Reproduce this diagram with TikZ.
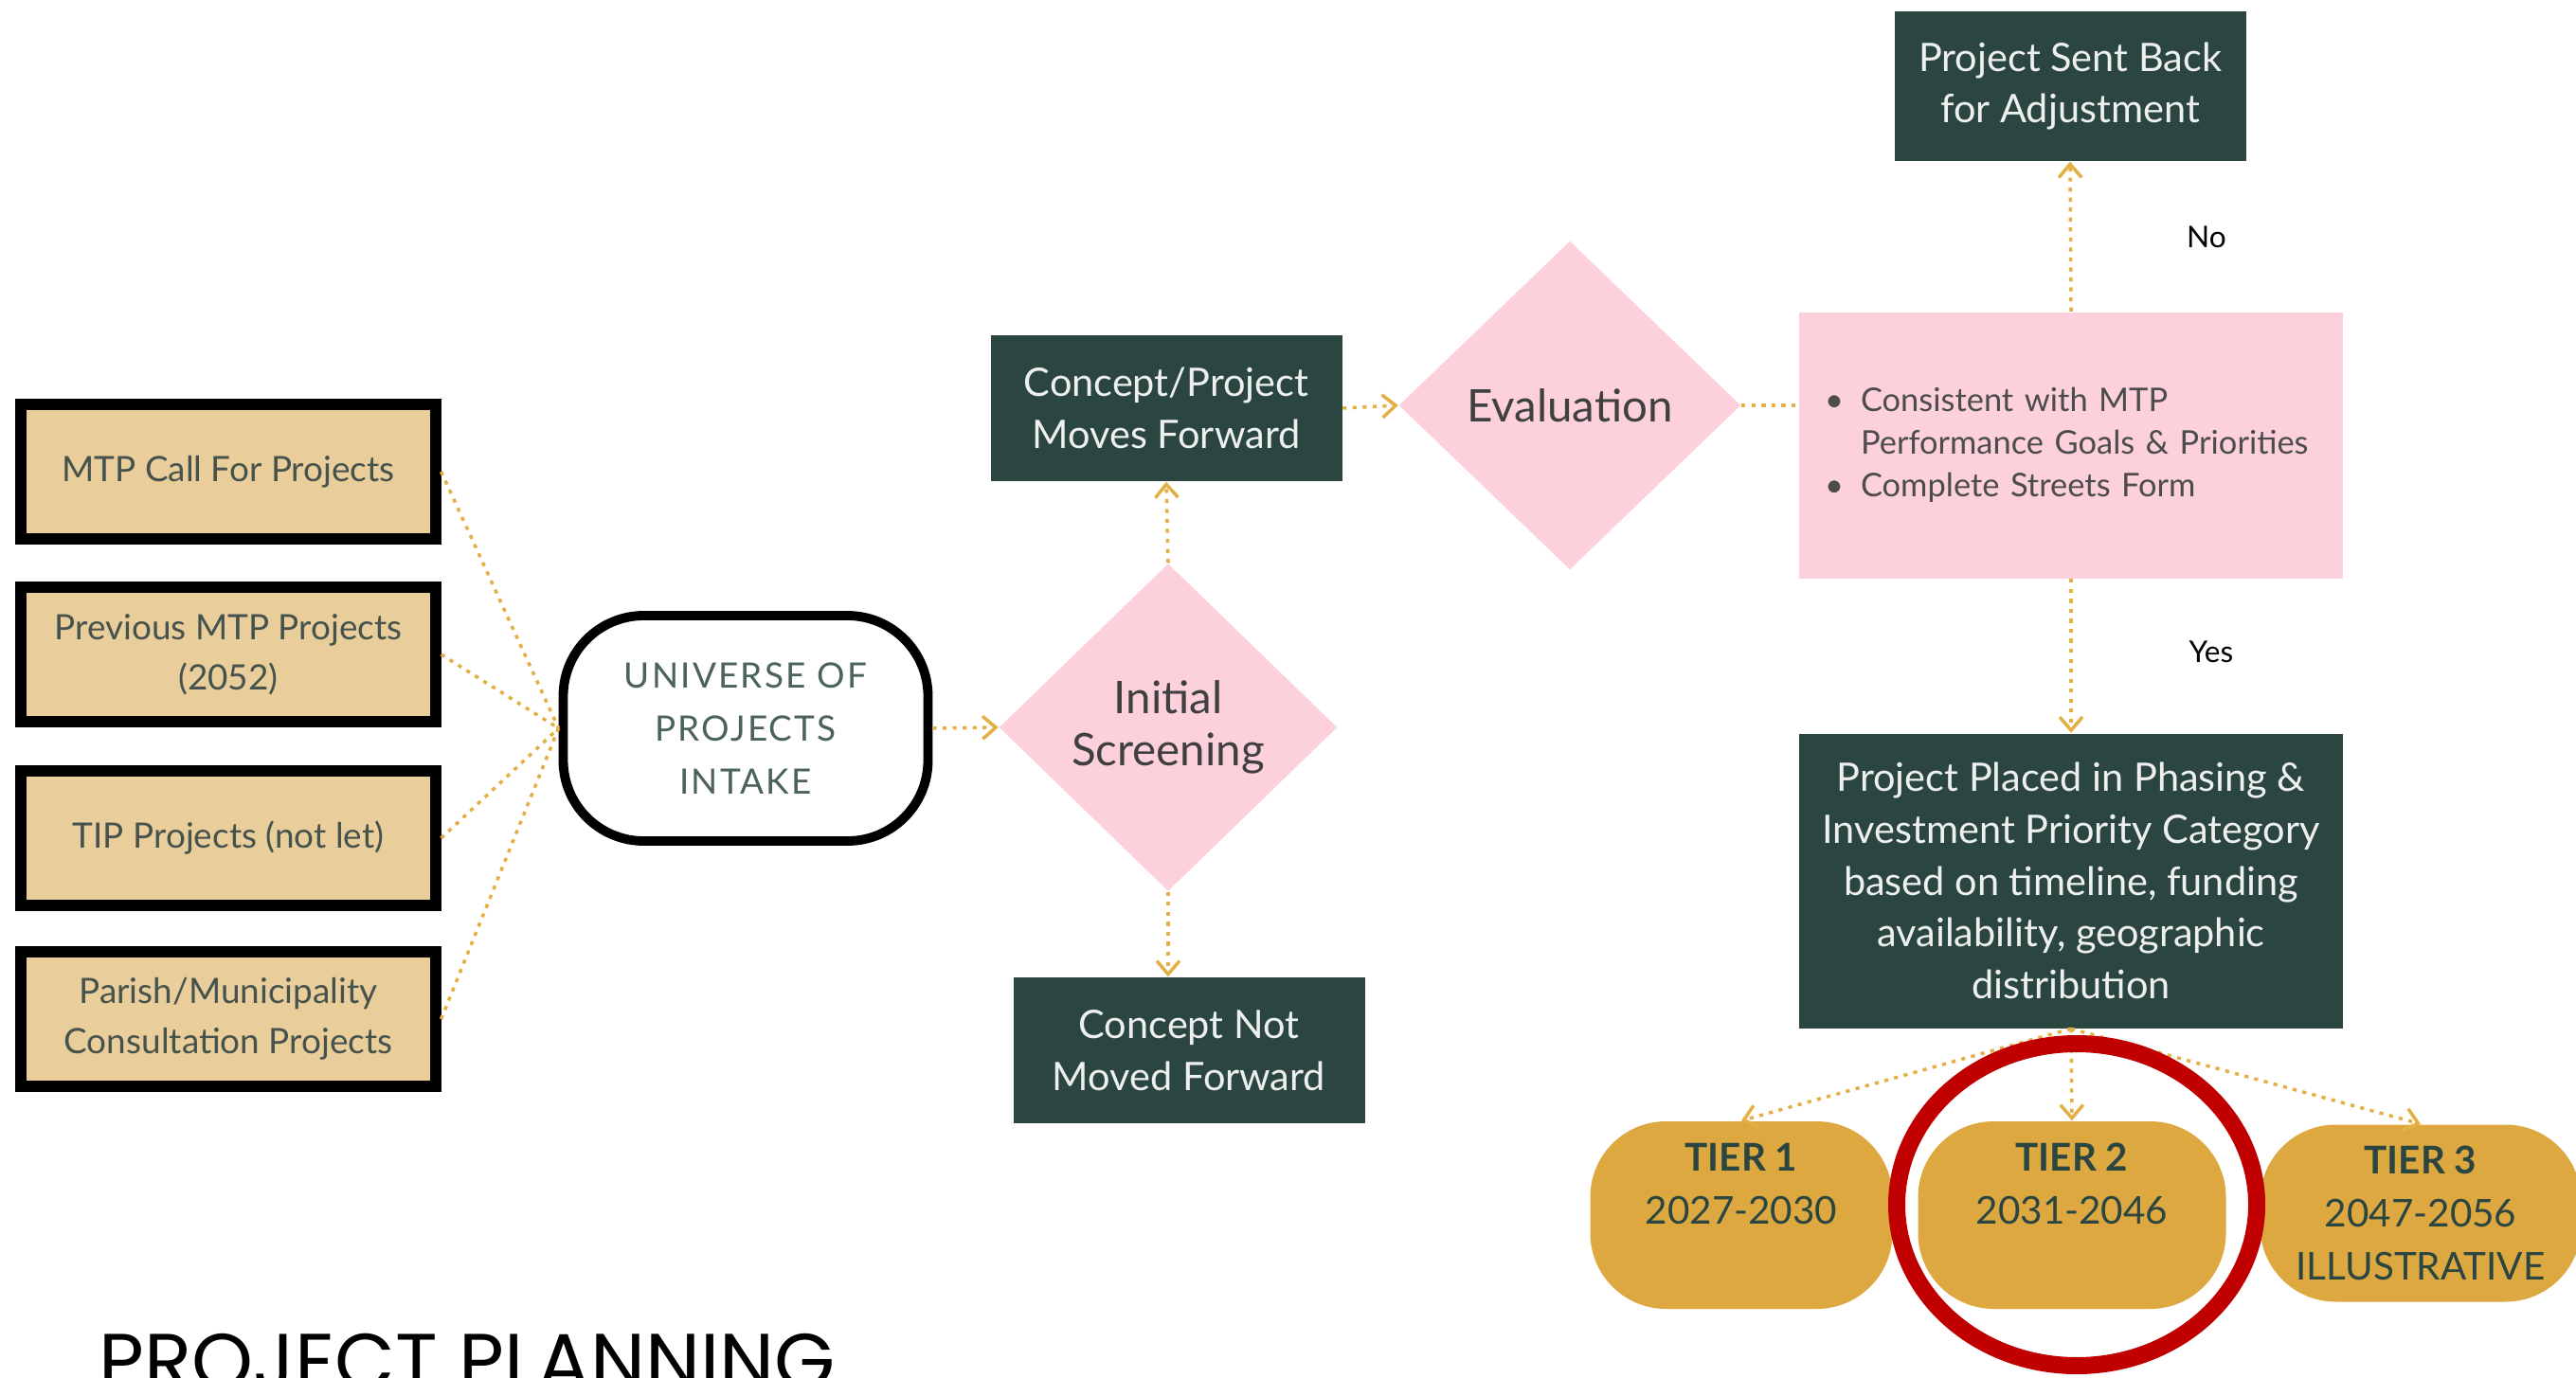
\documentclass[tikz,border=0pt]{standalone}
\usepackage{fontspec}
\setmainfont{Lato}
\newfontfamily\titlefont{Poppins}
\usetikzlibrary{shapes.geometric,arrows.meta}

\definecolor{pine}{RGB}{43,70,64}
\definecolor{sand}{RGB}{233,205,155}
\definecolor{blush}{RGB}{253,209,219}
\definecolor{amber}{RGB}{228,176,70}
\definecolor{gold}{RGB}{221,168,64}
\definecolor{alert}{RGB}{192,0,0}
\definecolor{ink}{RGB}{70,82,76}

\begin{document}
\begin{tikzpicture}[
    srcbox/.style={draw=black, fill=sand, line width=3.2pt, minimum width=4.38cm, minimum height=1.42cm,
        align=center, text=ink, font=\fontsize{10.5}{15}\selectfont},
    darkbox/.style={fill=pine, minimum width=3.71cm, minimum height=1.54cm, align=center,
        text=white!92!pine, font=\fontsize{11.8}{15.6}\selectfont},
    decision/.style={diamond, fill=blush, inner sep=0pt, align=center, text=black!75,
        font=\fontsize{13.5}{15.6}\selectfont},
    tier/.style={fill=gold, rounded corners=0.8cm, minimum height=1.98cm, align=center, text=pine,
        font=\fontsize{11.5}{16}\selectfont},
    flow/.style={draw=amber, line width=1pt, dash pattern=on 1.2pt off 1.8pt},
    flowarrow/.style={flow, -{Straight Barb[length=1.4mm,width=2.4mm]}},
    answer/.style={font=\fontsize{9}{11}\selectfont, text=black}
]
    % Canvas
    \useasboundingbox (0,0) rectangle (27.19,-14.55);
    \fill[white] (0,0) rectangle (27.19,-14.55);

    % Project sources
    \foreach \yy/\txt [count=\i] in {4.98/{MTP Call For Projects}, 6.91/{Previous MTP Projects\\(2052)},
        8.85/{TIP Projects (not let)}, 10.76/{Parish/Municipality\\Consultation Projects}} {
        \node[srcbox] (src\i) at (2.41,-\yy) {\txt};
    }

    % Intake and screening
    \node[draw=black, line width=2.8pt, rounded corners=0.85cm, minimum width=3.85cm, minimum height=2.38cm,
        align=center, text=pine!85, font=\addfontfeatures{LetterSpace=6}\fontsize{10.5}{15.9}\selectfont]
        (universe) at (7.87,-7.69) {UNIVERSE OF\\PROJECTS\\INTAKE};
    \node[decision, minimum width=3.57cm, minimum height=3.46cm] (screen) at (12.33,-7.68) {Initial\\Screening};
    \node[darkbox] (goAhead) at (12.31,-4.31) {Concept/Project\\Moves Forward};
    \node[darkbox] (notFwd) at (12.55,-11.09) {Concept Not\\Moved Forward};

    % Evaluation
    \node[decision, minimum width=3.61cm, minimum height=3.47cm] (eval) at (16.57,-4.28) {Evaluation};
    \node[fill=blush, minimum width=5.74cm, minimum height=2.81cm, text width=5.2cm, inner xsep=0.27cm,
        align=left, text=black!70, font=\fontsize{9.8}{12.8}\selectfont] (criteria) at (21.86,-4.70)
        {\makebox[0.38cm][l]{\textbullet}Consistent with MTP\\
         \hspace*{0.38cm}Performance Goals \& Priorities\\
         \makebox[0.38cm][l]{\textbullet}Complete Streets Form};
    \node[darkbox, minimum height=1.58cm] (sentBack) at (21.85,-0.91) {Project Sent Back\\for Adjustment};
    \node[darkbox, minimum width=5.74cm, minimum height=3.11cm] (placed) at (21.86,-9.30)
        {Project Placed in Phasing \&\\Investment Priority Category\\based on timeline, funding\\availability, geographic\\distribution};
    \node[answer] (noLbl) at (23.29,-2.50) {No};
    \node[answer] (yesLbl) at (23.34,-6.88) {Yes};

    % Tiers
    \node[tier, minimum width=3.19cm] (tier1) at (18.38,-12.83) {\textbf{TIER 1}\\2027-2030\\[0.1cm]\mbox{}};
    \node[tier, minimum width=3.25cm] (tier2) at (21.87,-12.83) {\textbf{TIER 2}\\2031-2046\\[0.1cm]\mbox{}};
    \node[tier, minimum width=3.39cm, minimum height=1.87cm] (tier3) at (25.55,-12.81)
        {\textbf{TIER 3}\\2047-2056\\ILLUSTRATIVE};

    % Connectors
    \foreach \i in {1,...,4} {
        \draw[flow] (src\i.east) -- (universe.west);
    }
    \draw[flowarrow] (universe.east) -- (screen.west);
    \draw[flowarrow] (screen.north) -- (goAhead.south);
    \draw[flowarrow] (screen.south) -- (screen.south |- notFwd.north);
    \draw[flowarrow] (goAhead.east) -- (eval.west);
    \draw[flow] (eval.east) -- (eval.east -| criteria.west);
    \draw[flowarrow] (criteria.north) -- (sentBack.south);
    \draw[flowarrow] (criteria.south) -- (placed.north);
    \foreach \t in {1,2,3} {
        \draw[flowarrow] (placed.south) -- (tier\t.north);
    }

    % Highlight and title
    \node[ellipse, draw=alert, line width=0.18cm, minimum width=3.8cm, minimum height=3.4cm] (focus) at (21.92,-12.72) {};
    \node[anchor=base west, inner sep=0pt, font=\titlefont\fontsize{23.5}{28}\selectfont] (title) at (1.04,-14.66) {PROJECT PLANNING};
\end{tikzpicture}
\end{document}
